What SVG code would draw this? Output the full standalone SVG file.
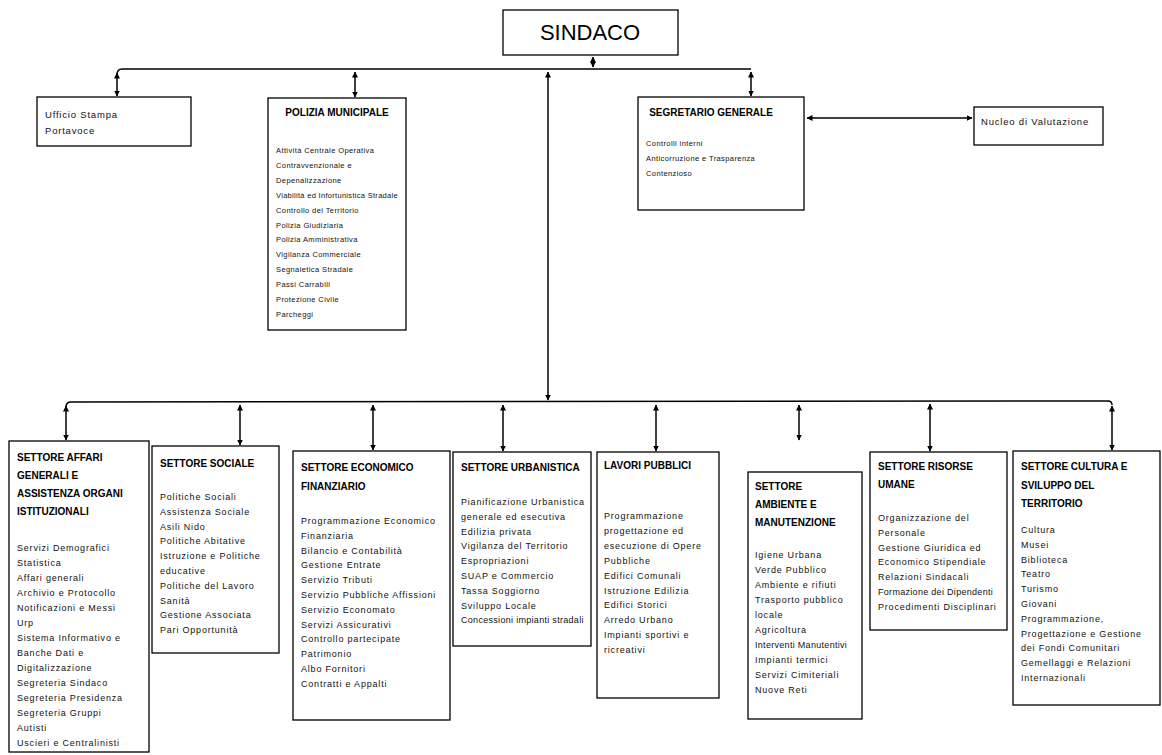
<svg xmlns="http://www.w3.org/2000/svg" width="1162" height="755" viewBox="0 0 1162 755">
<style>
.box{fill:#fff;stroke:#000;stroke-width:1.3}
.ttl{font-family:"Liberation Sans",Arial,sans-serif;font-weight:bold;font-size:10px;fill:#000}
.it{font-family:"Liberation Sans",Arial,sans-serif;font-size:9px;letter-spacing:0.8px;fill:#111}
.sm{font-family:"Liberation Sans",Arial,sans-serif;font-size:7.5px;letter-spacing:0.4px;fill:#111}
.md{font-family:"Liberation Sans",Arial,sans-serif;font-size:9.5px;letter-spacing:0.8px;fill:#111}
.big{font-family:"Liberation Sans",Arial,sans-serif;font-size:22px;fill:#000}
.tight{letter-spacing:0.3px}
.ln{stroke:#000;stroke-width:1.5;fill:none}
.ar{stroke:#000;stroke-width:1.5;fill:none;marker-start:url(#ah);marker-end:url(#ah)}
</style>
<defs>
<marker id="ah" markerUnits="userSpaceOnUse" markerWidth="6" markerHeight="6" refX="5.5" refY="3" orient="auto-start-reverse">
<path d="M0,0 L6,3 L0,6 z" fill="#000"/>
</marker>
</defs>
<rect width="1162" height="755" fill="#fff"/>

<g id="connectors">
<line class="ar" x1="593" y1="57" x2="593" y2="67"/>
<path class="ln" d="M117,75 Q117,69 122,69 L751,69"/>
<line class="ar" x1="117" y1="73" x2="117" y2="96"/>
<line class="ar" x1="355" y1="72" x2="355" y2="97"/>
<line class="ar" x1="751" y1="72" x2="751" y2="96"/>
<line class="ar" x1="548" y1="72" x2="548" y2="400"/>
<path class="ln" d="M66,407 Q66,402 71,402 L1108,401 Q1112,401 1112,405"/>
<line class="ar" x1="66" y1="406" x2="66" y2="440"/>
<line class="ar" x1="240" y1="405" x2="240" y2="445"/>
<line class="ar" x1="373" y1="405" x2="373" y2="450"/>
<line class="ar" x1="503" y1="405" x2="503" y2="451"/>
<line class="ar" x1="656" y1="405" x2="656" y2="451"/>
<line class="ar" x1="799" y1="405" x2="799" y2="440"/>
<line class="ar" x1="930" y1="404" x2="930" y2="451"/>
<line class="ar" x1="1112" y1="406" x2="1112" y2="450"/>
<line class="ar" x1="807" y1="118" x2="972" y2="118"/>
</g>

<g id="sindaco">
<rect class="box" x="503" y="10" width="175" height="45"/>
<text class="big" x="590" y="40" text-anchor="middle">SINDACO</text>
</g>

<g id="ufficio-stampa">
<rect class="box" x="37" y="97" width="154" height="49"/>
<text class="md" x="45" y="118">Ufficio Stampa<tspan x="45" dy="16">Portavoce</tspan></text>
</g>

<g id="polizia">
<rect class="box" x="268" y="98" width="138" height="232"/>
<text class="ttl" x="337" y="116" text-anchor="middle">POLIZIA MUNICIPALE</text>
<text class="sm" x="276" y="153">Attività Centrale Operativa<tspan x="276" dy="14.9">Contravvenzionale e</tspan><tspan x="276" dy="14.9">Depenalizzazione</tspan><tspan x="276" dy="14.9" class="tight">Viabilità ed Infortunistica Stradale</tspan><tspan x="276" dy="14.9">Controllo del Territorio</tspan><tspan x="276" dy="14.9">Polizia Giudiziaria</tspan><tspan x="276" dy="14.9">Polizia Amministrativa</tspan><tspan x="276" dy="14.9">Vigilanza Commerciale</tspan><tspan x="276" dy="14.9">Segnaletica Stradale</tspan><tspan x="276" dy="14.9">Passi Carrabili</tspan><tspan x="276" dy="14.9">Protezione Civile</tspan><tspan x="276" dy="14.9">Parcheggi</tspan></text>
</g>

<g id="segretario">
<rect class="box" x="638" y="97" width="166" height="113"/>
<text class="ttl" x="711" y="116" text-anchor="middle">SEGRETARIO GENERALE</text>
<text class="sm" x="646" y="146">Controlli interni<tspan x="646" dy="15">Anticorruzione e Trasparenza</tspan><tspan x="646" dy="15">Contenzioso</tspan></text>
</g>

<g id="nucleo">
<rect class="box" x="974" y="107" width="129" height="38"/>
<text class="md" x="981" y="125">Nucleo di Valutazione</text>
</g>

<g id="affari-generali">
<rect class="box" x="9" y="441" width="140" height="311"/>
<text class="ttl" x="17" y="461">SETTORE AFFARI<tspan x="17" dy="18">GENERALI E</tspan><tspan x="17" dy="18">ASSISTENZA ORGANI</tspan><tspan x="17" dy="18">ISTITUZIONALI</tspan></text>
<text class="it" x="17" y="551">Servizi Demografici<tspan x="17" dy="15">Statistica</tspan><tspan x="17" dy="15">Affari generali</tspan><tspan x="17" dy="15">Archivio e Protocollo</tspan><tspan x="17" dy="15">Notificazioni e Messi</tspan><tspan x="17" dy="15">Urp</tspan><tspan x="17" dy="15">Sistema Informativo e</tspan><tspan x="17" dy="15">Banche Dati e</tspan><tspan x="17" dy="15">Digitalizzazione</tspan><tspan x="17" dy="15">Segreteria Sindaco</tspan><tspan x="17" dy="15">Segreteria Presidenza</tspan><tspan x="17" dy="15">Segreteria Gruppi</tspan><tspan x="17" dy="15">Autisti</tspan><tspan x="17" dy="15">Uscieri e Centralinisti</tspan></text>
</g>

<g id="sociale">
<rect class="box" x="152" y="446" width="127" height="207"/>
<text class="ttl" x="160" y="467">SETTORE SOCIALE</text>
<text class="it" x="160" y="500">Politiche Sociali<tspan x="160" dy="14.8">Assistenza Sociale</tspan><tspan x="160" dy="14.8">Asili Nido</tspan><tspan x="160" dy="14.8">Politiche Abitative</tspan><tspan x="160" dy="14.8">Istruzione e Politiche</tspan><tspan x="160" dy="14.8">educative</tspan><tspan x="160" dy="14.8">Politiche del Lavoro</tspan><tspan x="160" dy="14.8">Sanità</tspan><tspan x="160" dy="14.8">Gestione Associata</tspan><tspan x="160" dy="14.8">Pari Opportunità</tspan></text>
</g>

<g id="economico-finanziario">
<rect class="box" x="293" y="451" width="157" height="269"/>
<text class="ttl" x="301" y="471">SETTORE ECONOMICO<tspan x="301" dy="19">FINANZIARIO</tspan></text>
<text class="it" x="301" y="524">Programmazione Economico<tspan x="301" dy="14.8">Finanziaria</tspan><tspan x="301" dy="14.8">Bilancio e Contabilità</tspan><tspan x="301" dy="14.8">Gestione Entrate</tspan><tspan x="301" dy="14.8">Servizio Tributi</tspan><tspan x="301" dy="14.8">Servizio Pubbliche Affissioni</tspan><tspan x="301" dy="14.8">Servizio Economato</tspan><tspan x="301" dy="14.8">Servizi Assicurativi</tspan><tspan x="301" dy="14.8">Controllo partecipate</tspan><tspan x="301" dy="14.8">Patrimonio</tspan><tspan x="301" dy="14.8">Albo Fornitori</tspan><tspan x="301" dy="14.8">Contratti e Appalti</tspan></text>
</g>

<g id="urbanistica">
<rect class="box" x="453" y="452" width="138" height="194"/>
<text class="ttl" x="461" y="471">SETTORE URBANISTICA</text>
<text class="it" x="461" y="505">Pianificazione Urbanistica<tspan x="461" dy="14.8">generale ed esecutiva</tspan><tspan x="461" dy="14.8">Edilizia privata</tspan><tspan x="461" dy="14.8">Vigilanza del Territorio</tspan><tspan x="461" dy="14.8">Espropriazioni</tspan><tspan x="461" dy="14.8">SUAP e Commercio</tspan><tspan x="461" dy="14.8">Tassa Soggiorno</tspan><tspan x="461" dy="14.8">Sviluppo Locale</tspan><tspan x="461" dy="14.8" class="tight">Concessioni impianti stradali</tspan></text>
</g>

<g id="lavori-pubblici">
<rect class="box" x="597" y="452" width="122" height="246"/>
<text class="ttl" x="604" y="469">LAVORI PUBBLICI</text>
<text class="it" x="604" y="519">Programmazione<tspan x="604" dy="14.9">progettazione ed</tspan><tspan x="604" dy="14.9">esecuzione di Opere</tspan><tspan x="604" dy="14.9">Pubbliche</tspan><tspan x="604" dy="14.9">Edifici Comunali</tspan><tspan x="604" dy="14.9">Istruzione Edilizia</tspan><tspan x="604" dy="14.9">Edifici Storici</tspan><tspan x="604" dy="14.9">Arredo Urbano</tspan><tspan x="604" dy="14.9">Impianti sportivi e</tspan><tspan x="604" dy="14.9">ricreativi</tspan></text>
</g>

<g id="ambiente-manutenzione">
<rect class="box" x="748" y="472" width="114" height="247"/>
<text class="ttl" x="755" y="490">SETTORE<tspan x="755" dy="18">AMBIENTE E</tspan><tspan x="755" dy="18">MANUTENZIONE</tspan></text>
<text class="it" x="755" y="558">Igiene Urbana<tspan x="755" dy="15">Verde Pubblico</tspan><tspan x="755" dy="15">Ambiente e rifiuti</tspan><tspan x="755" dy="15">Trasporto pubblico</tspan><tspan x="755" dy="15">locale</tspan><tspan x="755" dy="15">Agricoltura</tspan><tspan x="755" dy="15" class="tight">Interventi Manutentivi</tspan><tspan x="755" dy="15">Impianti termici</tspan><tspan x="755" dy="15">Servizi Cimiteriali</tspan><tspan x="755" dy="15">Nuove Reti</tspan></text>
</g>

<g id="risorse-umane">
<rect class="box" x="870" y="452" width="137" height="178"/>
<text class="ttl" x="878" y="470">SETTORE RISORSE<tspan x="878" dy="18">UMANE</tspan></text>
<text class="it" x="878" y="521">Organizzazione del<tspan x="878" dy="14.8">Personale</tspan><tspan x="878" dy="14.8">Gestione Giuridica ed</tspan><tspan x="878" dy="14.8">Economico Stipendiale</tspan><tspan x="878" dy="14.8">Relazioni Sindacali</tspan><tspan x="878" dy="14.8" class="tight">Formazione dei Dipendenti</tspan><tspan x="878" dy="14.8">Procedimenti Disciplinari</tspan></text>
</g>

<g id="cultura">
<rect class="box" x="1013" y="451" width="147" height="254"/>
<text class="ttl" x="1021" y="470">SETTORE CULTURA E<tspan x="1021" dy="18.5">SVILUPPO DEL</tspan><tspan x="1021" dy="18.5">TERRITORIO</tspan></text>
<text class="it" x="1021" y="533">Cultura<tspan x="1021" dy="14.8">Musei</tspan><tspan x="1021" dy="14.8">Biblioteca</tspan><tspan x="1021" dy="14.8">Teatro</tspan><tspan x="1021" dy="14.8">Turismo</tspan><tspan x="1021" dy="14.8">Giovani</tspan><tspan x="1021" dy="14.8">Programmazione,</tspan><tspan x="1021" dy="14.8">Progettazione e Gestione</tspan><tspan x="1021" dy="14.8">dei Fondi Comunitari</tspan><tspan x="1021" dy="14.8">Gemellaggi e Relazioni</tspan><tspan x="1021" dy="14.8">Internazionali</tspan></text>
</g>
</svg>
